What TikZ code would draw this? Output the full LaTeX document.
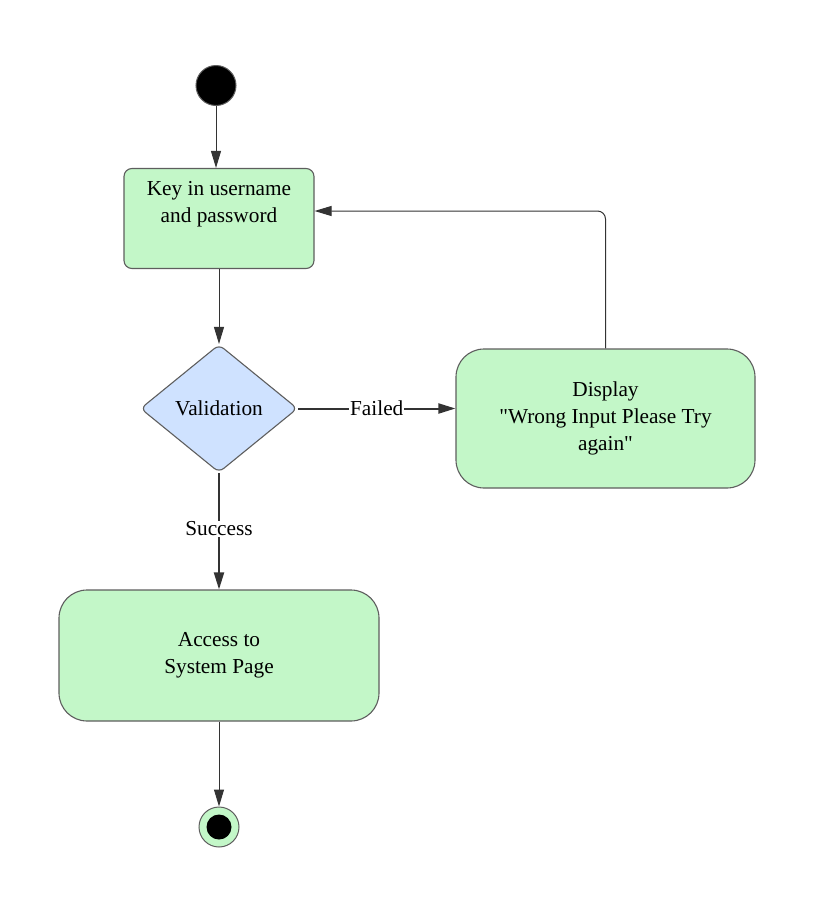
\documentclass[tikz,border=0pt]{standalone}
\usepackage{fontspec}
\setmainfont{Liberation Serif}
\font\qf="Liberation Serif" at 21.3pt
\usetikzlibrary{shapes.geometric,arrows.meta}
\definecolor{actgreen}{HTML}{C3F7C8}
\definecolor{decblue}{HTML}{CFE2FF}
\definecolor{bordergray}{HTML}{5E5E5E}
\definecolor{linegray}{HTML}{333333}
\begin{document}
\begin{tikzpicture}[x=1pt,y=-1pt,
  txt/.style={font=\fontsize{21.3}{27}\selectfont, align=center, inner sep=0},
  act/.style={draw=bordergray, line width=1.1pt, fill=actgreen, inner sep=0},
  conn/.style={draw=linegray, line width=1pt, -{Triangle[length=17pt,width=10pt]}},
  heavy/.style={draw=linegray, line width=2pt, -{Triangle[length=17pt,width=10pt]}},
  lbl/.style={txt, fill=white, inner sep=1pt}
]
\useasboundingbox (0,0) rectangle (837,908);
\node[circle, fill=black, draw=bordergray, line width=1pt, minimum size=40pt, inner sep=0] (start) at (216,85.5) {};
\node[act, rounded corners=8pt, minimum width=190pt, minimum height=100pt] (b1) at (219,218.5) {};
\node[txt] (t1) at (219,204) {Key in username\\and password};
\node[diamond, draw=bordergray, fill=decblue, line width=1.1pt, rounded corners=6pt, minimum width=157pt, minimum height=128pt, txt] (val) at (219,408.5) {Validation};
\node[act, txt, rounded corners=28pt, minimum width=299pt, minimum height=139pt] (b2) at (605.5,418.5) {Display\\{\qf"}Wrong Input Please Try\\again{\qf"}};
\node[act, txt, rounded corners=28pt, minimum width=320pt, minimum height=131pt] (b3) at (219,655.5) {Access to\\System Page};
\node[circle, draw=bordergray, fill=actgreen, line width=1pt, minimum size=40pt, inner sep=0] (end) at (219,827) {};
\node[circle, fill=black, minimum size=25pt, inner sep=0] (endin) at (end) {};
\draw[conn] (start) -- (start.south |- b1.north);
\draw[conn] (b1.south) -- (val.north);
\draw[heavy] (val.east) -- node[lbl] {Failed} (val.east -| b2.west);
\draw[heavy] (val.south) -- node[lbl, pos=0.48] {Success} (b3.north);
\draw[conn, rounded corners=8pt] (b2.north) |- ([yshift=7.5pt]b1.east);
\draw[conn] (b3.south) -- (end.north);
\end{tikzpicture}
\end{document}
